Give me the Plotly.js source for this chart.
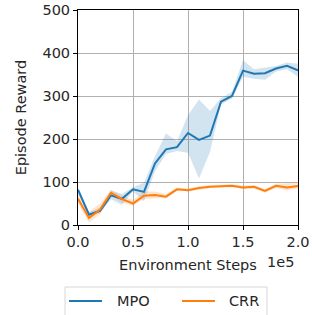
<!DOCTYPE html>
<html>
<head>
<meta charset="utf-8">
<script src="https://cdn.plot.ly/plotly-3.0.1.min.js"></script>
<style>html,body{margin:0;padding:0;background:#fff;}#chart{width:312px;height:315px;}</style>
</head>
<body>
<div id="chart"></div>
<script>
const steps = [0,0.1,0.2,0.3,0.4,0.5,0.6,0.7,0.8,0.9,1.0,1.1,1.2,1.3,1.4,1.5,1.6,1.7,1.8,1.9,2.0];
const mpoMean = [82,24,33,69,61,83,77,143,176,181,214,198,208,287,300,359,352,353,364,370,360];
const mpoUpper = [85,30,40,80,72,88,98,160,213,195,255,292,265,295,310,383,362,366,370,378,375];
const mpoLower = [79,20,28,60,47,78,55,125,165,172,168,108,170,280,295,345,340,338,357,362,345];
const crrMean = [61,16,36,75,60,50,68,70,66,83,81,86,89,90,91,87,89,79,91,87,91];
const crrUpper = [75,30,50,82,68,58,78,78,72,87,85,90,93,94,95,92,93,84,96,97,98];
const crrLower = [50,5,25,68,52,45,60,62,62,80,78,82,86,87,88,83,85,75,86,80,85];
const seriesNames = ['MPO','CRR'];
const colors = ['#1f77b4','#ff7f0e'];
const bandColors = ['rgba(31,119,180,0.2)','rgba(255,127,14,0.2)'];

function band(upper, lower, col){
  return [
    {x: steps, y: upper, mode:'lines', line:{width:0, color:col}, showlegend:false, hoverinfo:'skip'},
    {x: steps, y: lower, mode:'lines', line:{width:0, color:col}, fill:'tonexty', fillcolor:col, showlegend:false, hoverinfo:'skip'}
  ];
}
const data = [].concat(
  band(mpoUpper, mpoLower, bandColors[0]),
  band(crrUpper, crrLower, bandColors[1]),
  [
    {x: steps, y: mpoMean, mode:'lines', name: seriesNames[0], line:{color:colors[0], width:2}, showlegend:false},
    {x: steps, y: crrMean, mode:'lines', name: seriesNames[1], line:{color:colors[1], width:2}, showlegend:false}
  ]
);
const font = {family:'DejaVu Sans', size:14.5, color:'#262626'};

// legend drawn in paper coordinates (pixel helpers for the plot box 78..298 x 10..225)
const W = 220, H = 215, L = 78, B = 225;
const px = v => (v - L) / W;
const py = v => (B - v) / H;
const legY = py(301);
const legItems = [{line0:69, line1:102, text:115}, {line0:182, line1:215, text:227}];
const shapes = [
  {type:'rect', xref:'paper', yref:'paper', x0:px(65), x1:px(267), y0:py(287), y1:py(320),
   line:{color:'#d6d6d6', width:1}, fillcolor:'#fff', layer:'above'}
];
const annotations = [
  {text:'1e5', xref:'paper', yref:'paper', x:px(296), y:py(262), xanchor:'right', yanchor:'middle', showarrow:false, font:font}
];
seriesNames.forEach((n, i) => {
  shapes.push({type:'line', xref:'paper', yref:'paper', x0:px(legItems[i].line0), x1:px(legItems[i].line1), y0:legY, y1:legY,
    line:{color:colors[i], width:2}, layer:'above'});
  annotations.push({text:n, xref:'paper', yref:'paper', x:px(legItems[i].text), y:legY, xanchor:'left', yanchor:'middle',
    showarrow:false, font:font});
});

const layout = {
  width:312, height:315,
  margin:{l:78, r:14, t:10, b:90, autoexpand:false},
  paper_bgcolor:'#fff', plot_bgcolor:'#fff',
  font: font,
  showlegend:false,
  xaxis:{
    range:[0,2.0], tickvals:[0,0.5,1.0,1.5,2.0], ticktext:['0.0','0.5','1.0','1.5','2.0'],
    showgrid:true, gridcolor:'#b0b0b0', gridwidth:1,
    showline:true, linecolor:'#000', linewidth:1, mirror:true,
    ticks:'outside', ticklen:4, tickcolor:'#000', zeroline:false,
    title:{text:'Environment Steps', font:font, standoff:10},
    automargin:false, fixedrange:true
  },
  yaxis:{
    range:[0,500], tickvals:[0,100,200,300,400,500],
    showgrid:true, gridcolor:'#b0b0b0', gridwidth:1,
    showline:true, linecolor:'#000', linewidth:1, mirror:true,
    ticks:'outside', ticklen:4, tickcolor:'#000', zeroline:false,
    title:{text:'Episode Reward', font:font, standoff:12},
    automargin:false, fixedrange:true
  },
  shapes: shapes,
  annotations: annotations
};
Plotly.newPlot('chart', data, layout, {staticPlot:true, displayModeBar:false});
</script>
</body>
</html>
